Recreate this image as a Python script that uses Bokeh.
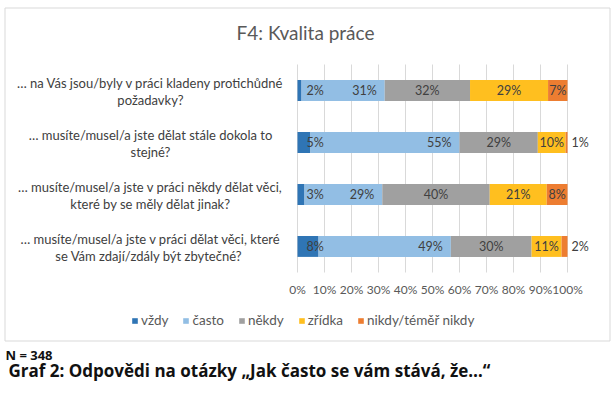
from bokeh.plotting import figure
from bokeh.models import ColumnDataSource, Label, Range1d, BoxAnnotation
from bokeh.core.properties import value
from bokeh.embed import file_html
from bokeh.resources import INLINE

# ---------------- data ----------------
chart_title = "F4: Kvalita práce"
q_line1 = [
    "… na Vás jsou/byly v práci kladeny protichůdné",
    "… musíte/musel/a jste dělat stále dokola to",
    "… musíte/musel/a jste v práci někdy dělat věci,",
    "… musíte/musel/a jste v práci dělat věci, které",
]
q_line2 = [
    "požadavky?",
    "stejné?",
    "které by se měly dělat jinak?",
    "se Vám zdají/zdály  být zbytečné?",
]
series_names = ["vždy", "často", "někdy", "zřídka", "nikdy/téměř nikdy"]
series_keys = ["vzdy", "casto", "nekdy", "zridka", "nikdy"]
vzdy = [1.5, 4.8, 2.6, 7.8]
casto = [30.8, 55.2, 28.8, 49.0]
nekdy = [31.6, 29.0, 39.8, 29.9]
zridka = [28.9, 10.3, 21.1, 11.1]
nikdy = [7.2, 0.7, 7.7, 2.2]
x_ticks = [0, 10, 20, 30, 40, 50, 60, 70, 80, 90, 100]
n_note = "N = 348"
caption = "Graf 2: Odpovědi na otázky „Jak často se vám stává, že…“"

colors = ["#2F75B5", "#92BEE4", "#A0A0A0", "#FFBF1F", "#ED7D31"]
FONT = "Lato"
TXT = "#404040"

# ---------------- layout (pixels of the canvas) ----------------
W, H = 613, 397
PLOT_L, PLOT_R = 297, 567      # 0 % and 100 %
PLOT_T, PLOT_B = 64, 272       # top / bottom of the category band
BOX_L, BOX_R, BOX_T, BOX_B = 4, 610, 7, 341   # chart border
n = len(q_line1)
px_x = (PLOT_R - PLOT_L) / 100.0
px_y = (PLOT_B - PLOT_T) / n


def dx(px):
    return (px - PLOT_L) / px_x


def dy(py):
    return (PLOT_B - py) / px_y


p = figure(width=W, height=H, output_backend="svg", toolbar_location=None,
           x_range=Range1d(dx(0), dx(W)), y_range=Range1d(dy(H), dy(0)),
           min_border=0, min_border_left=0, min_border_right=0,
           min_border_top=0, min_border_bottom=0)
p.axis.visible = False
p.grid.visible = False
p.outline_line_color = None
p.background_fill_color = "white"
p.border_fill_color = "white"

# chart border
p.add_layout(BoxAnnotation(left=dx(BOX_L + 0.5), right=dx(BOX_R - 0.5),
                           top=dy(BOX_T + 0.5), bottom=dy(BOX_B - 0.5),
                           fill_alpha=0, fill_color=None, line_color="#D9D9D9",
                           line_alpha=1, line_width=1, level="underlay"))

ypos = [n - 0.5 - i for i in range(n)]
values = [vzdy, casto, nekdy, zridka, nikdy]
src = ColumnDataSource(dict(y=ypos, **{k: v for k, v in zip(series_keys, values)}))

# grid lines at the ticks, spanning the category band
p.segment(x0=x_ticks, y0=[0] * len(x_ticks), x1=x_ticks, y1=[n] * len(x_ticks),
          line_color="#D9D9D9", line_width=1)

p.hbar_stack(series_keys, y="y", height=0.4, color=colors, source=src,
             legend_label=series_names, line_color=None)

# x tick labels
p.text(x=x_ticks, y=[0] * len(x_ticks), text=["%d%%" % t for t in x_ticks],
       y_offset=17, text_align="center", text_baseline="middle",
       text_font=value(FONT), text_font_size="12px", text_color="#595959")

# data labels
lab = {"left": dict(x=[], y=[], t=[], o=[]),
       "center": dict(x=[], y=[], t=[], o=[]),
       "right": dict(x=[], y=[], t=[], o=[])}
for i in range(n):
    cum = 0.0
    for s, vals in enumerate(values):
        v = vals[i]
        txt = "%d%%" % int(v + 0.5)
        if s == 0:
            g, xx, oo = "left", cum, 9
        elif s == 1:
            g, xx, oo = "right", cum + v, -8
        elif v < 4:
            g, xx, oo = "left", cum + v, 4
        else:
            g, xx, oo = "center", cum + v / 2, 0
        lab[g]["x"].append(xx); lab[g]["o"].append(oo)
        lab[g]["y"].append(ypos[i]); lab[g]["t"].append(txt)
        cum += v

for align, d in lab.items():
    p.text(x="x", y="y", text="t", x_offset="o", source=ColumnDataSource(d),
           text_align=align, text_baseline="middle", text_font=value(FONT),
           text_font_size="12.5px", text_color=TXT)

# category labels (two centred lines each)
cat_src = ColumnDataSource(dict(x=[0] * n, y=ypos, l1=q_line1, l2=q_line2))
for col, yo in (("l1", -8), ("l2", 9)):
    p.text(x="x", y="y", text=col, source=cat_src, x_offset=150 - PLOT_L, y_offset=yo,
           text_align="center", text_baseline="middle", text_font=value(FONT),
           text_font_size="13px", text_color=TXT)

# title
p.add_layout(Label(x=dx(305), y=dy(32), text=chart_title, text_align="center",
                   text_baseline="middle", text_font=FONT, text_font_size="19px",
                   text_color="#595959"))

# legend
lg = p.legend[0]
lg.orientation = "horizontal"
lg.location = (131, H - 328)
lg.glyph_width = 7
lg.glyph_height = 7
lg.label_height = 14
lg.label_standoff = 3
lg.spacing = 14
lg.padding = 0
lg.margin = 0
lg.label_text_font = FONT
lg.label_text_font_size = "13.5px"
lg.label_text_color = "#595959"
lg.background_fill_alpha = 0
lg.border_line_color = None

# footer
p.add_layout(Label(x=dx(5), y=dy(354.5), text=n_note, text_align="left",
                   text_baseline="middle", text_font="Open Sans", text_font_style="bold",
                   text_font_size="13px", text_color="#111111"))
p.add_layout(Label(x=dx(8), y=dy(369.5), text=caption, text_align="left",
                   text_baseline="middle", text_font="Open Sans", text_font_style="bold",
                   text_font_size="17px", text_color="#111111"))

open("out.html", "w").write(file_html(p, INLINE))
